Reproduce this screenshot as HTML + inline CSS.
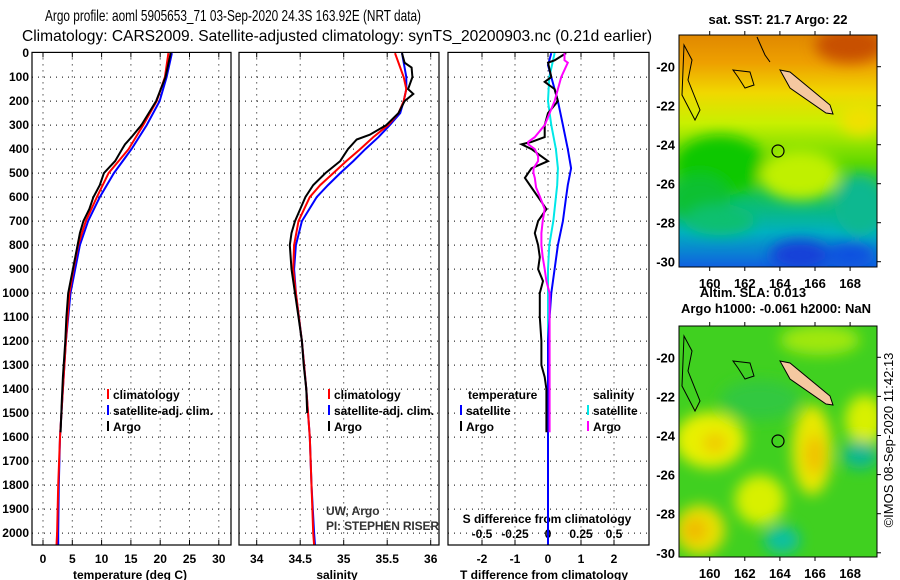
<!DOCTYPE html>
<html><head><meta charset="utf-8">
<style>
body{margin:0;background:#fff;}
svg{display:block;font-family:"Liberation Sans",sans-serif;font-size:12px;}
.b{font-weight:bold;}
</style></head>
<body>
<svg id="chart" width="900" height="580" viewBox="0 0 900 580">
<defs>
<filter id="bl" x="-50%" y="-50%" width="200%" height="200%"><feGaussianBlur stdDeviation="7"/></filter>
<clipPath id="m1c"><rect x="679" y="35" width="198" height="232"/></clipPath>
<clipPath id="m2c"><rect x="679" y="326" width="198" height="231"/></clipPath>
<linearGradient id="g1" x1="0" y1="0" x2="0" y2="1">
<stop offset="0" stop-color="#e08800"/><stop offset="0.12" stop-color="#eea000"/>
<stop offset="0.25" stop-color="#f0d800"/><stop offset="0.38" stop-color="#c8f000"/>
<stop offset="0.55" stop-color="#60d800"/><stop offset="0.7" stop-color="#10c060"/>
<stop offset="0.85" stop-color="#00b0c0"/><stop offset="1" stop-color="#1060e0"/>
</linearGradient>
</defs>
<text x="45" y="21" font-size="16" textLength="376" lengthAdjust="spacingAndGlyphs">Argo profile: aoml 5905653_71 03-Sep-2020 24.3S 163.92E (NRT data)</text>
<text x="22" y="41" font-size="16" textLength="630" lengthAdjust="spacingAndGlyphs">Climatology: CARS2009. Satellite-adjusted climatology: synTS_20200903.nc (0.21d earlier)</text>
<g id="plots"></g>

<g>
<g clip-path="url(#m1c)">
<rect x="679" y="35" width="198" height="232" fill="url(#g1)"/>
<g filter="url(#bl)">
<ellipse cx="850" cy="45" rx="35" ry="18" fill="#c85000"/>
<ellipse cx="720" cy="165" rx="45" ry="30" fill="#10c800"/>
<ellipse cx="700" cy="200" rx="30" ry="25" fill="#10c030"/>
<ellipse cx="800" cy="175" rx="40" ry="25" fill="#c0f000"/>
<ellipse cx="860" cy="205" rx="25" ry="30" fill="#10b890"/>
<ellipse cx="720" cy="220" rx="35" ry="15" fill="#10c070"/>
<ellipse cx="800" cy="255" rx="30" ry="15" fill="#1840d8"/>
<ellipse cx="850" cy="255" rx="25" ry="12" fill="#1050e0"/>
<ellipse cx="860" cy="120" rx="20" ry="15" fill="#f0e000"/>
</g>
<path d="M684 45 L692 60 L688 80 L700 110 L695 120 L682 95 Z" fill="none" stroke="#000" stroke-width="1"/>
<path d="M733 70 L750 72 L754 85 L745 88 L738 77 Z" fill="none" stroke="#000" stroke-width="1"/>
<path d="M757 37 L765 55 L770 62" fill="none" stroke="#000" stroke-width="1"/>
<path d="M780 70 L790 72 L830 105 L833 114 L826 113 L790 88 Z" fill="#f5c8a0" stroke="#000" stroke-width="1"/>
<circle cx="778" cy="151" r="6" fill="none" stroke="#000" stroke-width="1.2"/>
</g>
<rect x="679" y="35" width="198" height="232" fill="none" stroke="#000"/>
<text x="778" y="24" text-anchor="middle" class="b" font-size="13">sat. SST: 21.7 Argo: 22</text>
<text x="753" y="297" text-anchor="middle" class="b" font-size="13">Altim. SLA: 0.013</text>
</g>
<g>
<g clip-path="url(#m2c)">
<rect x="679" y="326" width="198" height="231" fill="#40d020"/>
<g filter="url(#bl)">
<ellipse cx="710" cy="440" rx="35" ry="28" fill="#e8f000"/>
<ellipse cx="715" cy="443" rx="12" ry="10" fill="#f0c800"/>
<ellipse cx="812" cy="450" rx="20" ry="45" fill="#e8e800"/>
<ellipse cx="815" cy="455" rx="10" ry="20" fill="#f0c000"/>
<ellipse cx="700" cy="530" rx="25" ry="25" fill="#e8e000"/>
<ellipse cx="695" cy="530" rx="12" ry="12" fill="#f0b800"/>
<ellipse cx="760" cy="500" rx="25" ry="25" fill="#d8f000"/>
<ellipse cx="865" cy="420" rx="20" ry="25" fill="#d8f000"/>
<ellipse cx="860" cy="455" rx="18" ry="14" fill="#10b890"/>
<ellipse cx="782" cy="540" rx="18" ry="14" fill="#10c0a0"/>
<ellipse cx="760" cy="400" rx="40" ry="20" fill="#30c840"/>
<ellipse cx="820" cy="340" rx="40" ry="15" fill="#a0e810"/>
</g>
<path d="M684 336 L692 351 L688 371 L700 401 L695 411 L682 386 Z" fill="none" stroke="#000" stroke-width="1"/>
<path d="M733 361 L750 363 L754 376 L745 379 L738 368 Z" fill="none" stroke="#000" stroke-width="1"/>
<path d="M780 361 L790 363 L830 396 L833 405 L826 404 L790 379 Z" fill="#f5c8a0" stroke="#000" stroke-width="1"/>
<circle cx="778" cy="441" r="6" fill="none" stroke="#000" stroke-width="1.2"/>
</g>
<rect x="679" y="326" width="198" height="231" fill="none" stroke="#000"/>
<text x="776" y="313" text-anchor="middle" class="b" font-size="13">Argo h1000: -0.061 h2000: NaN</text>
</g>
<text transform="translate(893,440) rotate(-90)" text-anchor="middle" font-size="13">©IMOS 08-Sep-2020 11:42:13</text>
<g id="maps-axes"></g>
</svg>
<script>
// ---- data ----
const depthsT = [0,100,200,300,400,500,600,700,800,900,1000,1200,1400,1600,1800,2000,2050];
const tempClim = [21.4,20.8,19.4,17.1,14.6,11.2,9.2,7.3,6.0,5.2,4.5,3.9,3.4,2.9,2.6,2.4,2.3];
const tempSat = [22.0,21.1,19.9,17.7,15.1,12.1,9.7,7.7,6.3,5.5,4.7,3.9,3.4,2.9,2.7,2.6,2.6];
const depthsArgoT = [0,100,200,300,350,380,400,450,500,550,600,650,700,750,800,900,1000,1100,1200,1350,1450,1580];
const tempArgo = [21.8,20.9,19.3,16.8,15.1,14.0,13.5,12.3,10.4,9.7,8.6,7.9,6.9,6.3,5.9,5.1,4.3,4.0,3.8,3.4,3.2,3.0];
const depthsS = [0,100,150,200,250,300,350,400,450,500,550,600,700,800,900,1000,1200,1400,1600,1800,2000,2050];
const salClim = [35.59,35.69,35.72,35.69,35.63,35.51,35.34,35.19,35.03,34.88,34.73,34.61,34.48,34.43,34.42,34.45,34.52,34.57,34.61,34.63,34.65,34.66];
const salSat = [35.67,35.72,35.72,35.69,35.65,35.53,35.40,35.25,35.11,34.96,34.82,34.69,34.52,34.45,34.43,34.45,34.52,34.57,34.61,34.63,34.66,34.67];
const depthsArgoS = [0,40,60,100,150,170,200,250,300,340,360,400,450,500,550,600,650,700,750,800,900,1000,1100,1200,1300,1400,1500];
const salArgo = [35.67,35.70,35.78,35.79,35.74,35.80,35.70,35.63,35.49,35.30,35.15,35.05,34.96,34.79,34.65,34.56,34.50,34.44,34.40,34.38,34.40,34.44,34.48,34.52,34.54,34.57,34.58];
const depthsD = [0,50,100,200,300,400,480,550,600,700,800,900,1000,1100,1200,2050];
const dTSat = [0.1,0.0,0.1,0.3,0.45,0.6,0.7,0.6,0.55,0.45,0.3,0.2,0.1,0.05,0,0];
const dSSat = [0.05,0.03,0.01,0,0.025,0.06,0.075,0.07,0.06,0.04,0.01,0,0,0,0,0];
const depthsDA = [0,30,40,100,120,150,200,250,300,350,370,380,400,430,450,480,500,520,560,600,650,700,750,800,850,900,950,1000,1100,1200,1300,1350,1400,1450,1580];
const dTArgo = [0.55,0.2,0.0,0.1,-0.1,0.2,0.3,0.0,-0.1,-0.1,-0.5,-0.8,-0.5,-0.2,0.0,-0.5,-0.6,-0.7,-0.5,-0.3,-0.05,-0.3,-0.4,-0.3,-0.25,-0.3,-0.15,-0.25,-0.25,-0.2,-0.2,-0.1,-0.05,-0.05,-0.05];
const dSArgo = [0.125,0.125,0.15,0.1,0.09,0.075,0.05,0.012,-0.025,-0.1,-0.15,-0.15,-0.1,-0.075,-0.075,-0.11,-0.11,-0.1,-0.09,-0.06,-0.025,-0.04,-0.05,-0.05,-0.04,-0.025,-0.012,0.012,0.012,0.012,0.012,0.012,0.012,0.012,0.012];
const depthTicks = [0,100,200,300,400,500,600,700,800,900,1000,1100,1200,1300,1400,1500,1600,1700,1800,1900,2000];
const tTicks = [0,5,10,15,20,25,30];
const sTicks = [34,34.5,35,35.5,36];
const sTickLabels = ['34','34.5','35','35.5','36'];
const dTTicks = [-2,-1,0,1,2];
const dSTicks = [-0.5,-0.25,0,0.25,0.5];
const lonTicks = [160,162,164,166,168];
const latTicks = [-20,-22,-24,-26,-28,-30];

// ---- scales ----
const NS='http://www.w3.org/2000/svg';
const TOP=52.4, BOT=545;
const yD = d => 53.1 + d*0.24;
const xT = v => 43 + v*5.86;
const xS = v => 256.7 + (v-34)*87;
const xdT = v => 548 + v*33;
const xdS = v => 548 + v*132;
const mx = lon => 709.7 + (lon-160)*17.55;
const my1 = lat => 66.7 + (-20-lat)*19.5;
const my2 = lat => 357.3 + (-20-lat)*19.55;
const root = document.getElementById('plots');
function mk(tag, attrs, parent){const e=document.createElementNS(NS,tag);for(const k in attrs)e.setAttribute(k,attrs[k]);(parent||root).appendChild(e);return e;}
function line(xs, ds, xf, color, name){
  const pts = ds.map((d,i)=>xf(xs[i]).toFixed(1)+','+yD(d).toFixed(1)).join(' ');
  const p = mk('polyline',{points:pts,fill:'none',stroke:color,'stroke-width':2});
  
  
}
function panel(x0,x1,name,vt,vf){
  const g = mk('g',{});
  
  
  depthTicks.forEach(d=>{ if(d>0) mk('line',{x1:x0,x2:x1,y1:yD(d),y2:yD(d),stroke:'#000','stroke-dasharray':'1,5','stroke-width':1},g); });
  vt.forEach(v=>{ mk('line',{x1:vf(v),x2:vf(v),y1:TOP,y2:BOT,stroke:'#000','stroke-dasharray':'1,5','stroke-width':1},g);
    mk('line',{x1:vf(v),x2:vf(v),y1:TOP,y2:TOP+5,stroke:'#000'},g); mk('line',{x1:vf(v),x2:vf(v),y1:BOT-5,y2:BOT,stroke:'#000'},g); });
  return g;
}
function frame(x0,x1,name){const r=mk('rect',{x:x0,y:TOP,width:x1-x0,height:BOT-TOP,fill:'none',stroke:'#000','stroke-width':1.2});
   }
function txt(x,y,s,attrs,name){const t=mk('text',Object.assign({x:x,y:y,class:'b'},attrs||{}));t.textContent=s;
   return t;}

panel(32,231,'temperature-panel',tTicks,xT);
panel(239,439,'salinity-panel',sTicks,xS);
panel(448,649,'difference-panel',dTTicks,xdT);

depthTicks.forEach(d=>txt(29,yD(d)+4,String(d),{'text-anchor':'end'},'y-tick-label'));
tTicks.forEach(v=>txt(xT(v),563,String(v),{'text-anchor':'middle'},'x-tick-label-temperature'));
sTicks.forEach((v,i)=>txt(xS(v),563,sTickLabels[i],{'text-anchor':'middle'},'x-tick-label-salinity'));
dTTicks.forEach(v=>txt(xdT(v),563,String(v),{'text-anchor':'middle'},'x-tick-label-tdiff'));
dSTicks.forEach(v=>txt(xdS(v),538,String(v),{'text-anchor':'middle'},'tick-label-sdiff'));
txt(130,579,'temperature (deg C)',{'text-anchor':'middle'},'x-axis-title-temperature');
txt(337,579,'salinity',{'text-anchor':'middle'},'x-axis-title-salinity');
txt(544,579,'T difference from climatology',{'text-anchor':'middle'},'x-axis-title-tdiff');
txt(547,523,'S difference from climatology',{'text-anchor':'middle'},'s-diff-title');

line(tempSat,depthsT,xT,'#0000ff','temp-satellite-line');
line(tempClim,depthsT,xT,'#ff0000','temp-climatology-line');
line(tempArgo,depthsArgoT,xT,'#000','temp-argo-line');
line(salSat,depthsS,xS,'#0000ff','sal-satellite-line');
line(salClim,depthsS,xS,'#ff0000','sal-climatology-line');
line(salArgo,depthsArgoS,xS,'#000','sal-argo-line');
line(dSSat,depthsD,xdS,'#00e8e8','sdiff-satellite-line');
line(dTSat,depthsD,xdT,'#0000ff','tdiff-satellite-line');
line(dTArgo,depthsDA,xdT,'#000','tdiff-argo-line');
line(dSArgo,depthsDA,xdS,'#ff00ff','sdiff-argo-line');

frame(32,231,'temperature-frame');frame(239,439,'salinity-frame');frame(448,649,'difference-frame');

function leg(x,y,color,label,name){
  const g=mk('g',{});  
  mk('rect',{x:x,y:y-10,width:2,height:10,fill:color},g);
  const t=mk('text',{x:x+6,y:y,class:'b'},g); t.textContent=label;
}
leg(107,399,'#ff0000','climatology','legend-climatology');
leg(107,415,'#0000ff','satellite-adj. clim.','legend-satellite-adj');
leg(107,431,'#000','Argo','legend-argo');
leg(328,399,'#ff0000','climatology','legend-climatology-s');
leg(328,415,'#0000ff','satellite-adj. clim.','legend-satellite-adj-s');
leg(328,431,'#000','Argo','legend-argo-s');
txt(468,399,'temperature',{},'legend-temperature-heading');
txt(593,399,'salinity',{},'legend-salinity-heading');
leg(460,415,'#0000ff','satellite','legend-tdiff-satellite');
leg(460,431,'#000','Argo','legend-tdiff-argo');
leg(587,415,'#00e8e8','satellite','legend-sdiff-satellite');
leg(587,431,'#ff00ff','Argo','legend-sdiff-argo');
txt(326,515,'UW, Argo',{'font-weight':'normal',fill:'#333'},'credit-institution');
txt(326,530,'PI: STEPHEN RISER',{'font-weight':'normal',fill:'#333',textLength:113},'credit-pi');

const ma=document.getElementById('maps-axes');
[[my1,35,267,283],[my2,326,557,573]].forEach(([f,top,bot,ly])=>{
  lonTicks.forEach(l=>{mk('line',{x1:mx(l),x2:mx(l),y1:top-4,y2:top,stroke:'#000'},ma);mk('line',{x1:mx(l),x2:mx(l),y1:bot,y2:bot+4,stroke:'#000'},ma);
    const t=mk('text',{x:mx(l),y:ly+5,class:'b','text-anchor':'middle','font-size':13},ma);t.textContent=l;
    });
  latTicks.forEach(l=>{const y=f(l);mk('line',{x1:877,x2:881,y1:y,y2:y,stroke:'#000'},ma);
    const t=mk('text',{x:675,y:y+5,class:'b','text-anchor':'end','font-size':13},ma);t.textContent=l;
    });
});
</script>
</body></html>
